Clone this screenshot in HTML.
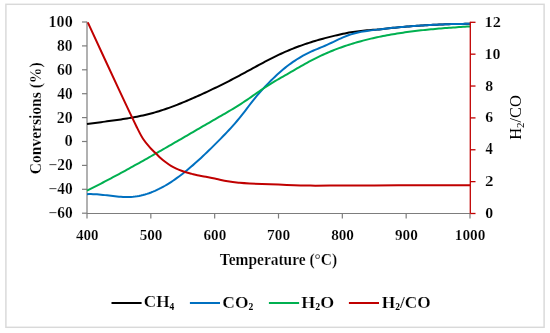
<!DOCTYPE html><html><head><meta charset="utf-8"><style>
html,body{margin:0;padding:0;background:#fff;}
svg{display:block;will-change:transform;}
text{font-family:"Liberation Serif",serif;font-weight:bold;fill:#000;}
text.b{stroke:#fff;stroke-width:0.18px;}
</style></head><body>
<svg width="550" height="333" viewBox="0 0 550 333">
<rect x="0" y="0" width="550" height="333" fill="#fff"/>
<rect x="5.9" y="4.3" width="538.2" height="323.0" fill="none" stroke="#d9d9d9" stroke-width="1.45"/>
<g stroke="#7d7d7d" stroke-width="1.2" fill="none">
<line x1="87" y1="21.70" x2="87" y2="213.50"/>
<line x1="87" y1="213.50" x2="470" y2="213.50"/>
<line x1="82" y1="213.20" x2="87" y2="213.20"/>
<line x1="82" y1="189.30" x2="87" y2="189.30"/>
<line x1="82" y1="165.40" x2="87" y2="165.40"/>
<line x1="82" y1="141.50" x2="87" y2="141.50"/>
<line x1="82" y1="117.60" x2="87" y2="117.60"/>
<line x1="82" y1="93.70" x2="87" y2="93.70"/>
<line x1="82" y1="69.80" x2="87" y2="69.80"/>
<line x1="82" y1="45.90" x2="87" y2="45.90"/>
<line x1="82" y1="22.00" x2="87" y2="22.00"/>
<line x1="87.00" y1="213.50" x2="87.00" y2="218.50"/>
<line x1="150.83" y1="213.50" x2="150.83" y2="218.50"/>
<line x1="214.67" y1="213.50" x2="214.67" y2="218.50"/>
<line x1="278.50" y1="213.50" x2="278.50" y2="218.50"/>
<line x1="342.33" y1="213.50" x2="342.33" y2="218.50"/>
<line x1="406.17" y1="213.50" x2="406.17" y2="218.50"/>
<line x1="470.00" y1="213.50" x2="470.00" y2="218.50"/>
</g>
<g transform="matrix(1.0270 0 0 1.0500 48.530 218.150)"><text class="b" x="0" y="0" font-size="15" style="font-weight:bold">−60</text></g>
<g transform="matrix(1.0270 0 0 1.0500 48.530 194.250)"><text class="b" x="0" y="0" font-size="15" style="font-weight:bold">−40</text></g>
<g transform="matrix(1.0270 0 0 1.0500 48.530 170.350)"><text class="b" x="0" y="0" font-size="15" style="font-weight:bold">−20</text></g>
<g transform="matrix(1.1000 0 0 1.0500 64.450 146.450)"><text class="b" x="0" y="0" font-size="15" style="font-weight:bold">0</text></g>
<g transform="matrix(1.0582 0 0 1.0500 56.806 122.550)"><text class="b" x="0" y="0" font-size="15" style="font-weight:bold">20</text></g>
<g transform="matrix(1.0211 0 0 1.0500 57.345 98.650)"><text class="b" x="0" y="0" font-size="15" style="font-weight:bold">40</text></g>
<g transform="matrix(1.0393 0 0 1.0500 57.080 74.750)"><text class="b" x="0" y="0" font-size="15" style="font-weight:bold">60</text></g>
<g transform="matrix(1.0393 0 0 1.0500 57.080 50.850)"><text class="b" x="0" y="0" font-size="15" style="font-weight:bold">80</text></g>
<g transform="matrix(1.0723 0 0 1.0500 48.560 26.950)"><text class="b" x="0" y="0" font-size="15" style="font-weight:bold">100</text></g>
<g transform="matrix(1.0023 0 0 1.0150 76.049 240.200)"><text class="b" x="0" y="0" font-size="15" style="font-weight:bold">400</text></g>
<g transform="matrix(1.0140 0 0 1.0150 139.626 240.200)"><text class="b" x="0" y="0" font-size="15" style="font-weight:bold">500</text></g>
<g transform="matrix(1.0140 0 0 1.0150 203.460 240.200)"><text class="b" x="0" y="0" font-size="15" style="font-weight:bold">600</text></g>
<g transform="matrix(1.0259 0 0 1.0150 267.031 240.200)"><text class="b" x="0" y="0" font-size="15" style="font-weight:bold">700</text></g>
<g transform="matrix(1.0140 0 0 1.0150 331.126 240.200)"><text class="b" x="0" y="0" font-size="15" style="font-weight:bold">800</text></g>
<g transform="matrix(1.0140 0 0 1.0150 394.960 240.200)"><text class="b" x="0" y="0" font-size="15" style="font-weight:bold">900</text></g>
<g transform="matrix(1.0248 0 0 1.0150 454.744 240.200)"><text class="b" x="0" y="0" font-size="15" style="font-weight:bold">1000</text></g>
<g transform="matrix(1.0538 0 0 1.0400 485.323 218.000)"><text class="b" x="0" y="0" font-size="15" style="font-weight:bold">0</text></g>
<g transform="matrix(1.1417 0 0 1.0400 484.994 186.133)"><text class="b" x="0" y="0" font-size="15" style="font-weight:bold">2</text></g>
<g transform="matrix(0.9786 0 0 1.0667 485.605 154.267)"><text class="b" x="0" y="0" font-size="15" style="font-weight:bold">4</text></g>
<g transform="matrix(1.0538 0 0 1.0400 485.323 122.400)"><text class="b" x="0" y="0" font-size="15" style="font-weight:bold">6</text></g>
<g transform="matrix(1.0538 0 0 1.0400 485.323 90.533)"><text class="b" x="0" y="0" font-size="15" style="font-weight:bold">8</text></g>
<g transform="matrix(1.0679 0 0 1.0400 484.515 58.667)"><text class="b" x="0" y="0" font-size="15" style="font-weight:bold">10</text></g>
<g transform="matrix(1.0885 0 0 1.0400 484.489 26.800)"><text class="b" x="0" y="0" font-size="15" style="font-weight:bold">12</text></g>
<g transform="matrix(1.0301 0 0 1.0872 219.842 264.500)"><text class="b" x="0" y="0" font-size="15" style="font-weight:bold">Temperature (°C)</text></g>
<g transform="matrix(1.0537 0 0 1.0376 40.937 174.278) rotate(-90)"><text class="b" x="0" y="0" font-size="15" style="font-weight:bold">Conversions (%)</text></g>
<g transform="matrix(1.0667 0 0 1.0918 520.700 139.846) rotate(-90)"><text x="0" y="0" font-size="15" style="font-weight:normal">H<tspan font-size="10.00" dy="3.40" style="stroke:none">2</tspan><tspan dy="-3.4">/CO</tspan></text></g>
<g transform="matrix(1.0764 0 0 1.0884 143.793 307.428)"><text class="b" x="0" y="0" font-size="16" style="font-weight:bold">CH<tspan font-size="8.80" dy="2.30" style="stroke:none">4</tspan></text></g>
<g transform="matrix(1.0899 0 0 1.0977 222.283 307.526)"><text class="b" x="0" y="0" font-size="16" style="font-weight:bold">CO<tspan font-size="8.80" dy="2.30" style="stroke:none">2</tspan></text></g>
<g transform="matrix(1.1221 0 0 1.0857 301.319 307.600)"><text class="b" x="0" y="0" font-size="16" style="font-weight:bold">H<tspan font-size="8.80" dy="2.30" style="stroke:none">2</tspan><tspan dy="-2.3">O</tspan></text></g>
<g transform="matrix(1.0825 0 0 1.0952 381.829 307.700)"><text class="b" x="0" y="0" font-size="16" style="font-weight:bold">H<tspan font-size="8.80" dy="2.30" style="stroke:none">2</tspan><tspan dy="-2.3">/CO</tspan></text></g>
<path d="M87.00,124.11 L89.00,123.82 L91.00,123.52 L93.00,123.24 L95.00,122.96 L97.00,122.69 L99.00,122.42 L101.00,122.15 L103.00,121.88 L105.00,121.62 L107.00,121.35 L109.00,121.08 L111.00,120.81 L113.00,120.54 L115.00,120.26 L117.00,119.98 L119.00,119.69 L121.00,119.40 L123.00,119.09 L125.00,118.78 L127.00,118.46 L129.00,118.13 L131.00,117.78 L133.00,117.42 L135.00,117.05 L137.00,116.67 L139.00,116.26 L141.00,115.85 L143.00,115.41 L145.00,114.95 L147.00,114.48 L149.00,113.98 L151.00,113.47 L153.00,112.93 L155.00,112.36 L157.00,111.78 L159.00,111.17 L161.00,110.54 L163.00,109.89 L165.00,109.22 L167.00,108.53 L169.00,107.82 L171.00,107.09 L173.00,106.35 L175.00,105.59 L177.00,104.81 L179.00,104.02 L181.00,103.22 L183.00,102.40 L185.00,101.57 L187.00,100.73 L189.00,99.88 L191.00,99.01 L193.00,98.14 L195.00,97.26 L197.00,96.36 L199.00,95.47 L201.00,94.56 L203.00,93.65 L205.00,92.73 L207.00,91.80 L209.00,90.86 L211.00,89.92 L213.00,88.97 L215.00,88.01 L217.00,87.04 L219.00,86.06 L221.00,85.07 L223.00,84.08 L225.00,83.07 L227.00,82.06 L229.00,81.04 L231.00,80.00 L233.00,78.96 L235.00,77.91 L237.00,76.85 L239.00,75.78 L241.00,74.71 L243.00,73.63 L245.00,72.54 L247.00,71.45 L249.00,70.36 L251.00,69.27 L253.00,68.18 L255.00,67.09 L257.00,66.00 L259.00,64.92 L261.00,63.84 L263.00,62.77 L265.00,61.71 L267.00,60.66 L269.00,59.62 L271.00,58.60 L273.00,57.59 L275.00,56.60 L277.00,55.62 L279.00,54.67 L281.00,53.73 L283.00,52.82 L285.00,51.93 L287.00,51.06 L289.00,50.21 L291.00,49.39 L293.00,48.59 L295.00,47.80 L297.00,47.04 L299.00,46.29 L301.00,45.57 L303.00,44.86 L305.00,44.17 L307.00,43.50 L309.00,42.84 L311.00,42.20 L313.00,41.58 L315.00,40.97 L317.00,40.38 L319.00,39.80 L321.00,39.23 L323.00,38.68 L325.00,38.14 L327.00,37.62 L329.00,37.10 L331.00,36.60 L333.00,36.10 L335.00,35.62 L337.00,35.16 L339.00,34.70 L341.00,34.25 L343.00,33.82 L345.00,33.40 L347.00,32.99 L349.00,32.59 L351.00,32.21 L353.00,31.91 L355.00,31.67 L357.00,31.43 L359.00,31.19 L361.00,30.95 L363.00,30.73 L365.00,30.52 L367.00,30.33 L369.00,30.16 L371.00,30.00 L373.00,29.86 L375.00,29.71 L377.00,29.58 L379.00,29.39 L381.00,29.16 L383.00,28.93 L385.00,28.71 L387.00,28.49 L389.00,28.28 L391.00,28.07 L393.00,27.86 L395.00,27.66 L397.00,27.47 L399.00,27.28 L401.00,27.10 L403.00,26.92 L405.00,26.74 L407.00,26.57 L409.00,26.41 L411.00,26.25 L413.00,26.09 L415.00,25.94 L417.00,25.80 L419.00,25.66 L421.00,25.53 L423.00,25.40 L425.00,25.27 L427.00,25.15 L429.00,25.04 L431.00,24.93 L433.00,24.82 L435.00,24.72 L437.00,24.63 L439.00,24.54 L441.00,24.46 L443.00,24.38 L445.00,24.31 L447.00,24.24 L449.00,24.18 L451.00,24.12 L453.00,24.07 L455.00,24.02 L457.00,23.98 L459.00,23.94 L461.00,23.91 L463.00,23.88 L465.00,23.86 L467.00,23.85 L469.00,23.84 L470.00,23.84" fill="none" stroke="#000000" stroke-width="2.00" stroke-linejoin="round" stroke-linecap="butt"/>
<path d="M87.00,194.13 L89.00,194.08 L91.00,194.08 L93.00,194.14 L95.00,194.23 L97.00,194.36 L99.00,194.52 L101.00,194.70 L103.00,194.91 L105.00,195.13 L107.00,195.36 L109.00,195.59 L111.00,195.82 L113.00,196.05 L115.00,196.26 L117.00,196.46 L119.00,196.63 L121.00,196.78 L123.00,196.89 L125.00,196.96 L127.00,196.99 L129.00,196.96 L131.00,196.89 L133.00,196.75 L135.00,196.54 L137.00,196.27 L139.00,195.92 L141.00,195.51 L143.00,195.03 L145.00,194.49 L147.00,193.88 L149.00,193.21 L151.00,192.48 L153.00,191.69 L155.00,190.84 L157.00,189.93 L159.00,188.97 L161.00,187.95 L163.00,186.87 L165.00,185.75 L167.00,184.57 L169.00,183.34 L171.00,182.06 L173.00,180.74 L175.00,179.36 L177.00,177.94 L179.00,176.48 L181.00,174.98 L183.00,173.43 L185.00,171.84 L187.00,170.22 L189.00,168.56 L191.00,166.86 L193.00,165.13 L195.00,163.37 L197.00,161.58 L199.00,159.76 L201.00,157.92 L203.00,156.05 L205.00,154.15 L207.00,152.24 L209.00,150.30 L211.00,148.34 L213.00,146.37 L215.00,144.38 L217.00,142.38 L219.00,140.36 L221.00,138.33 L223.00,136.29 L225.00,134.22 L227.00,132.13 L229.00,130.00 L231.00,127.83 L233.00,125.61 L235.00,123.34 L237.00,121.01 L239.00,118.62 L241.00,116.16 L243.00,113.62 L245.00,111.02 L247.00,108.38 L249.00,105.74 L251.00,103.12 L253.00,100.56 L255.00,98.07 L257.00,95.67 L259.00,93.35 L261.00,91.11 L263.00,88.91 L265.00,86.77 L267.00,84.66 L269.00,82.59 L271.00,80.56 L273.00,78.59 L275.00,76.66 L277.00,74.79 L279.00,72.98 L281.00,71.22 L283.00,69.53 L285.00,67.89 L287.00,66.32 L289.00,64.79 L291.00,63.33 L293.00,61.92 L295.00,60.57 L297.00,59.27 L299.00,58.03 L301.00,56.84 L303.00,55.70 L305.00,54.61 L307.00,53.58 L309.00,52.59 L311.00,51.66 L313.00,50.77 L315.00,49.91 L317.00,49.07 L319.00,48.24 L321.00,47.42 L323.00,46.59 L325.00,45.74 L327.00,44.87 L329.00,43.96 L331.00,43.03 L333.00,42.07 L335.00,41.11 L337.00,40.16 L339.00,39.21 L341.00,38.29 L343.00,37.41 L345.00,36.56 L347.00,35.78 L349.00,35.05 L351.00,34.38 L353.00,33.76 L355.00,33.21 L357.00,32.72 L359.00,32.28 L361.00,31.88 L363.00,31.52 L365.00,31.20 L367.00,30.90 L369.00,30.63 L371.00,30.37 L373.00,30.12 L375.00,29.87 L377.00,29.63 L379.00,29.39 L381.00,29.16 L383.00,28.93 L385.00,28.71 L387.00,28.49 L389.00,28.28 L391.00,28.07 L393.00,27.86 L395.00,27.66 L397.00,27.47 L399.00,27.28 L401.00,27.10 L403.00,26.92 L405.00,26.74 L407.00,26.57 L409.00,26.41 L411.00,26.25 L413.00,26.09 L415.00,25.94 L417.00,25.80 L419.00,25.66 L421.00,25.53 L423.00,25.40 L425.00,25.27 L427.00,25.15 L429.00,25.04 L431.00,24.93 L433.00,24.82 L435.00,24.72 L437.00,24.63 L439.00,24.54 L441.00,24.46 L443.00,24.38 L445.00,24.31 L447.00,24.24 L449.00,24.18 L451.00,24.12 L453.00,24.07 L455.00,24.02 L457.00,23.98 L459.00,23.94 L461.00,23.91 L463.00,23.88 L465.00,23.86 L467.00,23.85 L469.00,23.84 L470.00,23.84" fill="none" stroke="#0070c0" stroke-width="2.00" stroke-linejoin="round" stroke-linecap="butt"/>
<path d="M87.00,190.68 L89.00,189.68 L91.00,188.67 L93.00,187.66 L95.00,186.64 L97.00,185.62 L99.00,184.59 L101.00,183.55 L103.00,182.51 L105.00,181.47 L107.00,180.42 L109.00,179.36 L111.00,178.30 L113.00,177.24 L115.00,176.17 L117.00,175.09 L119.00,174.02 L121.00,172.93 L123.00,171.85 L125.00,170.76 L127.00,169.66 L129.00,168.56 L131.00,167.46 L133.00,166.35 L135.00,165.24 L137.00,164.13 L139.00,163.01 L141.00,161.89 L143.00,160.77 L145.00,159.65 L147.00,158.52 L149.00,157.39 L151.00,156.25 L153.00,155.12 L155.00,153.98 L157.00,152.84 L159.00,151.69 L161.00,150.55 L163.00,149.40 L165.00,148.25 L167.00,147.10 L169.00,145.95 L171.00,144.80 L173.00,143.64 L175.00,142.49 L177.00,141.33 L179.00,140.17 L181.00,139.02 L183.00,137.86 L185.00,136.70 L187.00,135.53 L189.00,134.37 L191.00,133.21 L193.00,132.05 L195.00,130.89 L197.00,129.73 L199.00,128.56 L201.00,127.40 L203.00,126.24 L205.00,125.08 L207.00,123.92 L209.00,122.76 L211.00,121.60 L213.00,120.45 L215.00,119.29 L217.00,118.14 L219.00,116.98 L221.00,115.83 L223.00,114.68 L225.00,113.52 L227.00,112.36 L229.00,111.19 L231.00,110.01 L233.00,108.82 L235.00,107.60 L237.00,106.37 L239.00,105.12 L241.00,103.84 L243.00,102.53 L245.00,101.19 L247.00,99.84 L249.00,98.46 L251.00,97.08 L253.00,95.68 L255.00,94.29 L257.00,92.89 L259.00,91.51 L261.00,90.14 L263.00,88.79 L265.00,87.46 L267.00,86.15 L269.00,84.88 L271.00,83.63 L273.00,82.40 L275.00,81.20 L277.00,80.01 L279.00,78.85 L281.00,77.69 L283.00,76.55 L285.00,75.41 L287.00,74.27 L289.00,73.12 L291.00,71.96 L293.00,70.80 L295.00,69.63 L297.00,68.47 L299.00,67.31 L301.00,66.15 L303.00,65.01 L305.00,63.88 L307.00,62.77 L309.00,61.68 L311.00,60.61 L313.00,59.58 L315.00,58.56 L317.00,57.57 L319.00,56.61 L321.00,55.66 L323.00,54.74 L325.00,53.85 L327.00,52.97 L329.00,52.12 L331.00,51.29 L333.00,50.48 L335.00,49.69 L337.00,48.93 L339.00,48.18 L341.00,47.45 L343.00,46.74 L345.00,46.05 L347.00,45.38 L349.00,44.73 L351.00,44.10 L353.00,43.48 L355.00,42.88 L357.00,42.30 L359.00,41.73 L361.00,41.18 L363.00,40.64 L365.00,40.12 L367.00,39.62 L369.00,39.13 L371.00,38.65 L373.00,38.19 L375.00,37.74 L377.00,37.30 L379.00,36.87 L381.00,36.46 L383.00,36.06 L385.00,35.67 L387.00,35.29 L389.00,34.93 L391.00,34.57 L393.00,34.22 L395.00,33.89 L397.00,33.56 L399.00,33.25 L401.00,32.94 L403.00,32.65 L405.00,32.36 L407.00,32.08 L409.00,31.81 L411.00,31.55 L413.00,31.29 L415.00,31.05 L417.00,30.81 L419.00,30.58 L421.00,30.35 L423.00,30.13 L425.00,29.92 L427.00,29.72 L429.00,29.52 L431.00,29.33 L433.00,29.14 L435.00,28.96 L437.00,28.78 L439.00,28.61 L441.00,28.44 L443.00,28.28 L445.00,28.12 L447.00,27.96 L449.00,27.81 L451.00,27.66 L453.00,27.52 L455.00,27.38 L457.00,27.24 L459.00,27.10 L461.00,26.97 L463.00,26.83 L465.00,26.70 L467.00,26.57 L469.00,26.44 L470.00,26.38" fill="none" stroke="#00b050" stroke-width="2.00" stroke-linejoin="round" stroke-linecap="butt"/>
<path d="M87.80,22.30 C93.03,33.62 111.05,72.75 119.20,90.20 C127.35,107.65 132.73,118.90 136.70,127.00 C140.67,135.10 140.78,135.37 143.00,138.80 C145.22,142.23 147.95,145.27 150.00,147.60 C152.05,149.93 153.55,151.07 155.30,152.80 C157.05,154.53 158.75,156.42 160.50,158.00 C162.25,159.58 164.05,160.98 165.80,162.30 C167.55,163.62 169.25,164.85 171.00,165.90 C172.75,166.95 174.55,167.80 176.30,168.60 C178.05,169.40 179.75,170.05 181.50,170.70 C183.25,171.35 185.05,171.97 186.80,172.50 C188.55,173.03 190.25,173.45 192.00,173.90 C193.75,174.35 194.98,174.72 197.30,175.20 C199.62,175.68 202.65,176.15 205.90,176.80 C209.15,177.45 213.17,178.35 216.80,179.10 C220.43,179.85 224.07,180.70 227.70,181.30 C231.33,181.90 234.97,182.33 238.60,182.70 C242.23,183.07 242.85,183.18 249.50,183.50 C256.15,183.82 268.35,184.25 278.50,184.60 C288.65,184.95 299.77,185.47 310.40,185.60 C321.03,185.73 331.65,185.43 342.30,185.40 C352.95,185.37 363.65,185.42 374.30,185.40 C384.95,185.38 395.57,185.32 406.20,185.30 C416.83,185.28 427.47,185.30 438.10,185.30 C448.73,185.30 464.68,185.30 470.00,185.30" fill="none" stroke="#c00000" stroke-width="2.00" stroke-linejoin="round" stroke-linecap="butt"/>
<g stroke="#c00000" stroke-width="1.3" fill="none">
<line x1="470.3" y1="21.70" x2="470.3" y2="213.50"/>
<line x1="470.3" y1="213.50" x2="475.5" y2="213.50"/>
<line x1="470.3" y1="181.63" x2="475.5" y2="181.63"/>
<line x1="470.3" y1="149.77" x2="475.5" y2="149.77"/>
<line x1="470.3" y1="117.90" x2="475.5" y2="117.90"/>
<line x1="470.3" y1="86.03" x2="475.5" y2="86.03"/>
<line x1="470.3" y1="54.17" x2="475.5" y2="54.17"/>
<line x1="470.3" y1="22.30" x2="475.5" y2="22.30"/>
</g>
<line x1="111.5" y1="303" x2="141.6" y2="303" stroke="#000000" stroke-width="2.00"/>
<line x1="189.9" y1="303" x2="220.0" y2="303" stroke="#0070c0" stroke-width="2.00"/>
<line x1="268.9" y1="303" x2="299.1" y2="303" stroke="#00b050" stroke-width="2.00"/>
<line x1="348.9" y1="303" x2="379.0" y2="303" stroke="#c00000" stroke-width="2.00"/>
</svg></body></html>
